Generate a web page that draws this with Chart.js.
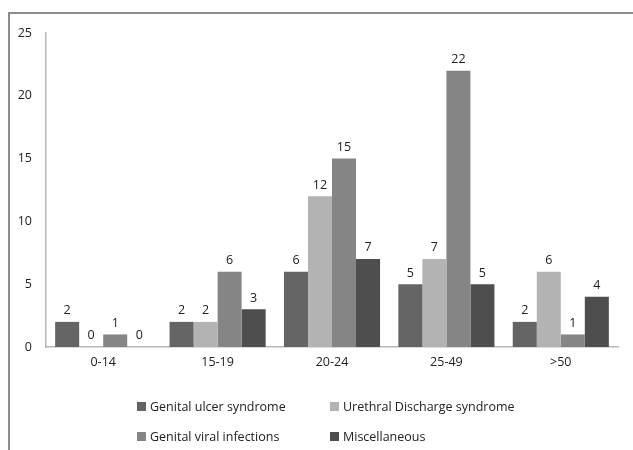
<!DOCTYPE html>
<html>
<head>
<meta charset="utf-8">
<script src="https://cdn.jsdelivr.net/npm/chart.js@4/dist/chart.umd.min.js"></script>
<style>
  html, body { margin: 0; padding: 0; background: #fff; }
  #wrap { position: relative; width: 633px; height: 450px; overflow: hidden; }
  #frame { position: absolute; left: 8px; top: 12px; right: -10px; bottom: -10px;
           border-top: 2px solid #8c8c8c; border-left: 2px solid #8c8c8c; pointer-events: none; }
  #chart { position: absolute; left: 0; top: 0; }
  #legend { position: absolute; left: 137px; top: 398px; width: 480px;
            font-family: "Open Sans", "Liberation Sans", sans-serif; font-size: 12.5px; color: #222; }
  .item { position: absolute; white-space: nowrap; display: flex; align-items: center; }
  .box { width: 9px; height: 9px; margin-right: 4px; }
</style>
</head>
<body>
<div id="wrap">
  <canvas id="chart" width="633" height="450"></canvas>
  <div id="legend"></div>
  <div id="frame"></div>
</div>
<script>
const ageGroups = ["0-14", "15-19", "20-24", "25-49", ">50"];
const genitalUlcer = [2, 2, 6, 5, 2];
const urethralDischarge = [0, 2, 12, 7, 6];
const genitalViral = [1, 6, 15, 22, 1];
const miscellaneous = [0, 3, 7, 5, 4];
const seriesNames = ["Genital ulcer syndrome", "Urethral Discharge syndrome", "Genital viral infections", "Miscellaneous"];
const seriesColors = ["#646464", "#b3b3b3", "#858585", "#4e4e4e"];
const yTicks = [0, 5, 10, 15, 20, 25];

const font = "'Open Sans', 'Liberation Sans', sans-serif";

// Value labels above each bar
const valueLabels = {
  id: "valueLabels",
  afterDatasetsDraw(chart) {
    const ctx = chart.ctx;
    ctx.save();
    ctx.font = `12.5px ${font}`;
    ctx.fillStyle = "#222";
    ctx.textAlign = "center";
    ctx.textBaseline = "bottom";
    chart.data.datasets.forEach((ds, i) => {
      chart.getDatasetMeta(i).data.forEach((bar, j) => {
        ctx.fillText(ds.data[j], bar.x, bar.y - 5);
      });
    });
    ctx.restore();
  },
};

const datasets = [genitalUlcer, urethralDischarge, genitalViral, miscellaneous].map((data, i) => ({
  label: seriesNames[i],
  data,
  backgroundColor: seriesColors[i],
  borderWidth: 0,
  barPercentage: 1,
  categoryPercentage: 0.84,
}));

const chart = new Chart(document.getElementById("chart"), {
  type: "bar",
  data: { labels: ageGroups, datasets },
  options: {
    responsive: false,
    animation: false,
    layout: { padding: { left: 0, right: 15, top: 33, bottom: 78 } },
    plugins: { legend: { display: false }, tooltip: { enabled: false } },
    scales: {
      x: {
        grid: { display: false, drawTicks: false },
        border: { color: "#b8b8b8", width: 1.5 },
        ticks: { color: "#222", font: { family: font, size: 12.5 }, padding: 8 },
        afterFit: (s) => { s.height = 25; },
      },
      y: {
        min: 0,
        max: 25,
        afterBuildTicks: (s) => { s.ticks = yTicks.map((v) => ({ value: v })); },
        grid: { display: false, drawTicks: false },
        border: { color: "#b8b8b8", width: 1.5 },
        ticks: { color: "#222", font: { family: font, size: 12.5 }, padding: 14 },
        afterFit: (s) => { s.width = 46; },
      },
    },
  },
  plugins: [valueLabels],
});

// Two-row legend
const legend = document.getElementById("legend");
const positions = [[0, 0], [193, 0], [0, 30], [193, 30]];
chart.data.datasets.forEach((ds, i) => {
  const item = document.createElement("div");
  item.className = "item";
  item.style.left = positions[i][0] + "px";
  item.style.top = positions[i][1] + "px";
  item.innerHTML = `<span class="box" style="background:${ds.backgroundColor}"></span>${ds.label}`;
  legend.appendChild(item);
});
</script>
</body>
</html>
